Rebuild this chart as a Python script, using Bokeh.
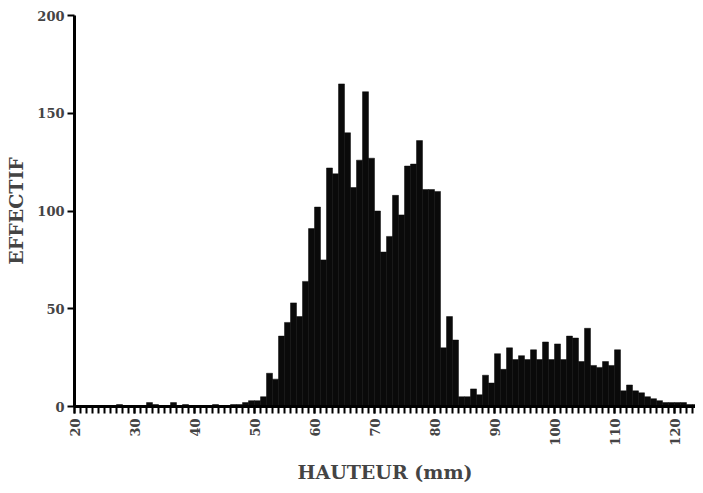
import math
from bokeh.plotting import figure
from bokeh.models import FixedTicker, Label, Range1d
from bokeh.embed import file_html
from bokeh.resources import INLINE

# Histogram bins (left edge in mm, width 1 mm) and counts
bin_left = list(range(20, 125))
counts = [
    0, 0, 0, 0, 0, 0, 0, 1, 0, 0,        # 20-29
    0, 0, 2, 1, 0, 0, 2, 0, 1, 0,        # 30-39
    0, 0, 0, 1, 0, 0, 1, 1, 2, 3,        # 40-49
    3, 5, 17, 14, 36, 43, 53, 46, 64, 91,  # 50-59
    102, 75, 122, 119, 165, 140, 112, 126, 161, 127,  # 60-69
    100, 79, 87, 108, 98, 123, 124, 136, 111, 111,    # 70-79
    110, 30, 46, 34, 5, 5, 9, 6, 16, 12,  # 80-89
    27, 19, 30, 24, 26, 24, 29, 24, 33, 24,  # 90-99
    32, 24, 36, 35, 23, 40, 21, 20, 23, 21,  # 100-109
    29, 8, 11, 8, 7, 5, 4, 3, 2, 2,      # 110-119
    2, 2, 1, 1, 1,                       # 120-124
]
x_major = [20, 30, 40, 50, 60, 70, 80, 90, 100, 110, 120]
y_major = [0, 50, 100, 150, 200]
title_text = "N = 3608"
x_label = "HAUTEUR (mm)"
y_label = "EFFECTIF"

FONT = "DejaVu Serif"

p = figure(width=695, height=485, output_backend="svg", toolbar_location=None,
           x_range=Range1d(20, 123.5), y_range=Range1d(0, 200),
           min_border_left=74, min_border_right=0, min_border_top=15,
           min_border_bottom=77)
p.outline_line_color = None
p.xgrid.grid_line_color = None
p.ygrid.grid_line_color = None
p.background_fill_color = "white"
p.border_fill_color = "white"

rights = [b + 1 for b in bin_left]
p.quad(left=bin_left, right=rights, bottom=0, top=counts,
       fill_color="#0a0a0a", line_color="#0a0a0a", line_width=0.5)

# x axis
xa = p.xaxis[0]
xa.ticker = FixedTicker(ticks=x_major, minor_ticks=list(range(20, 125)))
xa.major_label_orientation = math.pi / 2
xa.axis_line_width = 3
xa.major_tick_out = 7
xa.major_tick_in = 0
xa.minor_tick_out = 7
xa.minor_tick_in = 0
xa.major_tick_line_width = 2
xa.minor_tick_line_width = 2
xa.major_label_standoff = 5
xa.major_label_text_font = FONT
xa.major_label_text_font_style = "bold"
xa.major_label_text_font_size = "13px"
xa.axis_label = x_label
xa.axis_label_text_font = FONT
xa.axis_label_text_font_style = "bold"
xa.axis_label_text_font_size = "19px"
xa.axis_label_standoff = 12

# y axis
ya = p.yaxis[0]
ya.ticker = FixedTicker(ticks=y_major, minor_ticks=[])
ya.axis_line_width = 3
ya.major_tick_out = 7
ya.major_tick_in = 0
ya.major_tick_line_width = 2
ya.major_label_standoff = 3
ya.major_label_text_font = FONT
ya.major_label_text_font_style = "bold"
ya.major_label_text_font_size = "13px"
ya.axis_label = y_label
ya.axis_label_text_font = FONT
ya.axis_label_text_font_style = "bold"
ya.axis_label_text_font_size = "19px"
ya.axis_label_standoff = 7

title = Label(x=71.5, y=205.1, text=title_text, text_align="center",
              text_baseline="alphabetic", text_font=FONT,
              text_font_style="bold", text_font_size="20px")
p.add_layout(title)

open("out.html", "w").write(file_html(p, INLINE))
